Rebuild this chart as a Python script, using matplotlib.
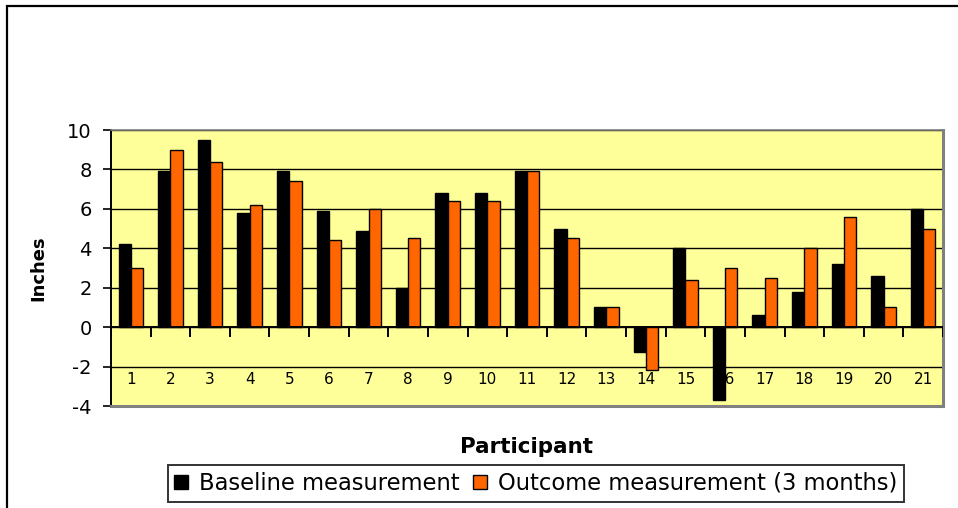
import matplotlib.pyplot as plt
import matplotlib.patches as patches
import numpy as np

# Dados
participantes = [str(i) for i in range(1, 22)]
baseline = [4.2, 7.9, 9.5, 5.8, 7.9, 5.9, 4.9, 2.0, 6.8, 6.8, 7.9,
            5.0, 1.0, -1.25, 4.0, -3.7, 0.6, 1.8, 3.2, 2.6, 6.0]
outcome = [3.0, 9.0, 8.4, 6.2, 7.4, 4.4, 6.0, 4.5, 6.4, 6.4, 7.9,
           4.5, 1.0, -2.15, 2.4, 3.0, 2.5, 4.0, 5.6, 1.0, 5.0]
yticks = [-4, -2, 0, 2, 4, 6, 8, 10]

plt.rcParams['font.family'] = ['DejaVu Sans']
plt.rcParams['axes.unicode_minus'] = False

fig = plt.figure(figsize=(9.58, 5.08), dpi=100)
ax = fig.add_axes([111 / 958, 1 - 406 / 508, 832 / 958, 276 / 508])

# Moldura externa (cortada a direita e embaixo)
fig.patches.append(patches.Rectangle((7 / 958, -0.1), 1.2, 1 - 6 / 508 + 0.1,
                                     transform=fig.transFigure, fill=False,
                                     edgecolor='black', linewidth=1.6))

x = np.arange(len(participantes))
largura = 0.31

ax.set_facecolor('#FFFF99')
ax.set_axisbelow(True)
ax.grid(axis='y', color='black', linewidth=1.0)

ax.bar(x - largura / 2, baseline, largura, color='black', edgecolor='black',
       linewidth=1.0, label='Baseline measurement', zorder=3)
ax.bar(x + largura / 2, outcome, largura, color='#FF6600', edgecolor='black',
       linewidth=1.0, label='Outcome measurement (3 months)', zorder=3)

# Eixo das categorias em y = 0 com marcas entre as categorias
ax.axhline(0, color='black', linewidth=1.4, zorder=4)
limites = np.arange(len(participantes) + 1) - 0.5
ax.vlines(limites, -0.5, 0, color='black', linewidth=1.4, zorder=4)
for xi, rotulo in zip(x, participantes):
    ax.text(xi, -2.65, rotulo, ha='center', va='center', fontsize=11)

ax.set_xlim(-0.5, len(participantes) - 0.5)
ax.set_ylim(-4, 10)
ax.set_xticks([])
ax.set_yticks(yticks)
ax.tick_params(axis='y', labelsize=14, length=6, width=1.2, pad=8)

ax.spines['left'].set_color('black')
ax.spines['left'].set_linewidth(1.4)
ax.spines['top'].set_color('#808080')
ax.spines['top'].set_linewidth(1.2)
ax.spines['right'].set_color('#808080')
ax.spines['right'].set_linewidth(2.2)
ax.spines['bottom'].set_color('#808080')
ax.spines['bottom'].set_linewidth(2.2)

ax.set_ylabel('Inches', fontsize=13, fontweight='bold')
ax.yaxis.set_label_coords(-0.076, 0.5)
ax.set_xlabel('Participant', fontsize=15.5, fontweight='bold')
ax.xaxis.set_label_coords(0.5, -0.112)

leg = fig.legend(loc='center', bbox_to_anchor=(536 / 958, 1 - 483.5 / 508),
                 ncol=2, fontsize=16.3, frameon=True, fancybox=False,
                 edgecolor='black', handlelength=0.6, handleheight=0.6,
                 handletextpad=0.5, columnspacing=0.6, borderpad=0.3,
                 borderaxespad=0)
leg.get_frame().set_linewidth(1.4)

fig.savefig('out.png', dpi=100)
